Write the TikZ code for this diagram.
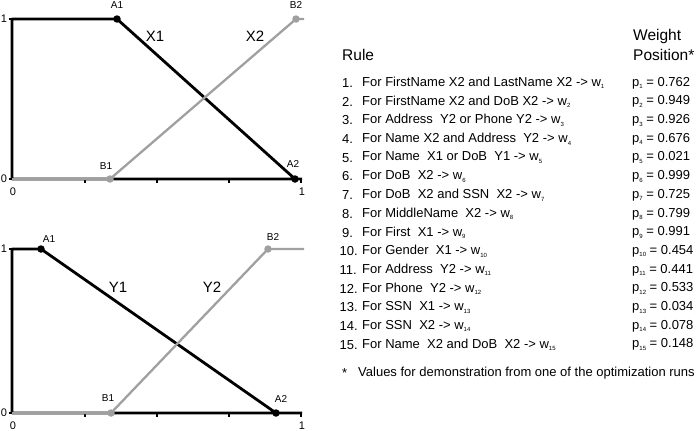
\documentclass[tikz,border=0pt]{standalone}
\usepackage{fontspec}
\setmainfont{Liberation Sans}
\definecolor{lgray}{RGB}{160,160,160}
\newcommand{\idx}[1]{\raisebox{-2.5pt}{\fontsize{6}{6}\selectfont #1}}
\tikzset{
  memA/.style     = {draw=black, line width=2.8pt, line join=round},
  memB/.style     = {draw=lgray, line width=2.3pt, line join=round},
  tickmark/.style = {draw=black, line width=1.4pt},
  dotA/.style     = {circle, fill=black, minimum size=7.5pt},
  dotB/.style     = {circle, fill=lgray, minimum size=7.5pt},
  ptlabel/.style  = {font=\fontsize{10}{12}\selectfont},
  setlabel/.style = {font=\fontsize{15}{18}\selectfont},
  axlabel/.style  = {font=\fontsize{11}{13}\selectfont},
  header/.style   = {font=\fontsize{15.5}{18}\selectfont, anchor=west},
  rowtext/.style  = {font=\fontsize{13}{15}\selectfont, anchor=west},
}

\begin{document}
\begin{tikzpicture}
  [
    x = 1pt, y = -1pt,
    every node/.style = {inner sep=0pt}
  ]
  \useasboundingbox (0,0) rectangle (697,431);

  % upper chart (X)
  \coordinate (tO) at (12,179);
  \coordinate (tY) at (12,19);
  \coordinate (tX) at (302,179);
  \coordinate (tE) at (304,19);
  \coordinate (tA1) at (117,19);
  \coordinate (tA2) at (295,179);
  \coordinate (tB1) at (110,179);
  \coordinate (tB2) at (296,19);
  \foreach \t in {85,157,229,301}
    \draw[tickmark] (\t,179) -- (\t,183);
  \draw[tickmark] (tY) -- ++(-3,0);
  \draw[tickmark] (tO) -- ++(-3,0);
  \draw[memA] (tX) -- (tO) -- (tY) -- (tA1) -- (tA2);
  \draw[memB] (tO) -- (tB1) -- (tB2) -- (tE);
  \node[dotA] (tA1d) at (tA1) {};
  \node[dotA] (tA2d) at (tA2) {};
  \node[dotB] (tB1d) at (tB1) {};
  \node[dotB] (tB2d) at (tB2) {};
  \node[ptlabel] (tA1l) at (117,5) {A1};
  \node[ptlabel] (tB2l) at (296,5) {B2};
  \node[ptlabel] (tB1l) at (106,166) {B1};
  \node[ptlabel] (tA2l) at (293,164) {A2};
  \node[setlabel] (tX1) at (155,36) {X1};
  \node[setlabel] (tX2) at (255,36) {X2};
  \node[axlabel] (tv1) at (4,19) {1};
  \node[axlabel] (tv0) at (4,179) {0};
  \node[axlabel] (th0) at (13,192) {0};
  \node[axlabel] (th1) at (302,192) {1};

  % lower chart (Y)
  \coordinate (bO) at (12,413);
  \coordinate (bY) at (12,249);
  \coordinate (bX) at (302,413);
  \coordinate (bE) at (304,249);
  \coordinate (bA1) at (41,249);
  \coordinate (bA2) at (276,413);
  \coordinate (bB1) at (111,413);
  \coordinate (bB2) at (268,249);
  \foreach \t in {85,157,229,301}
    \draw[tickmark] (\t,413) -- (\t,417);
  \draw[tickmark] (bY) -- ++(-3,0);
  \draw[tickmark] (bO) -- ++(-3,0);
  \draw[memA] (bX) -- (bO) -- (bY) -- (bA1) -- (bA2);
  \draw[memB] (bO) -- (bB1) -- (bB2) -- (bE);
  \node[dotA] (bA1d) at (bA1) {};
  \node[dotA] (bA2d) at (bA2) {};
  \node[dotB] (bB1d) at (bB1) {};
  \node[dotB] (bB2d) at (bB2) {};
  \node[ptlabel] (bA1l) at (49,239) {A1};
  \node[ptlabel] (bB2l) at (273,237) {B2};
  \node[ptlabel] (bB1l) at (108,398) {B1};
  \node[ptlabel] (bA2l) at (281,399) {A2};
  \node[setlabel] (bY1) at (118,287) {Y1};
  \node[setlabel] (bY2) at (212,287) {Y2};
  \node[axlabel] (bv1) at (4,249) {1};
  \node[axlabel] (bv0) at (4,413) {0};
  \node[axlabel] (bh0) at (13,426) {0};
  \node[axlabel] (bh1) at (302,426) {1};

  % rule table
  \node[header] (rulehd) at (342,55) {Rule};
  \node[header] (wthd) at (633,36) {Weight};
  \node[header] (poshd) at (633,55) {Position*};
  \foreach \txt/\pv [count=\i] in {
      {FirstName X2 and LastName X2}/0.762,
      {FirstName X2 and DoB X2}/0.949,
      {Address\ \ Y2 or Phone Y2}/0.926,
      {Name X2 and Address\ \ Y2}/0.676,
      {Name\ \ X1 or DoB\ \ Y1}/0.021,
      {DoB\ \ X2}/0.999,
      {DoB\ \ X2 and SSN\ \ X2}/0.725,
      {MiddleName\ \ X2}/0.799,
      {First\ \ X1}/0.991,
      {Gender\ \ X1}/0.454,
      {Address\ \ Y2}/0.441,
      {Phone\ \ Y2}/0.533,
      {SSN\ \ X1}/0.034,
      {SSN\ \ X2}/0.078,
      {Name\ \ X2 and DoB\ \ X2}/0.148}
  {
    \node[rowtext] (num\i) at ({342-2.5*(\i>9)},{83+18.7*(\i-1)}) {\i.};
    \node[rowtext] (rule\i) at (362,{83+18.7*(\i-1)}) {For \txt{} -> w\idx{\i}};
    \node[rowtext] (pos\i) at (632,{83+18.7*(\i-1)}) {p\idx{\i} = \pv};
  }
  \node[rowtext] (star) at (342,373) {*};
  \node[rowtext] (note) at (358,373) {Values for demonstration from one of the optimization runs};
\end{tikzpicture}
\end{document}
